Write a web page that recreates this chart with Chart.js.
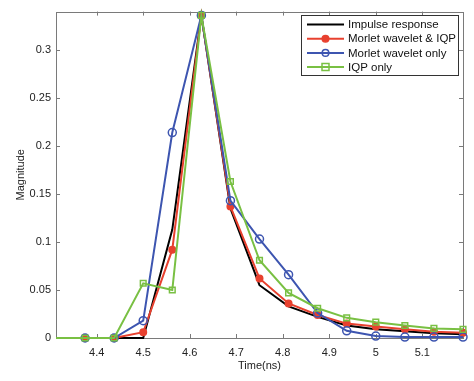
<!DOCTYPE html>
<html>
<head>
<meta charset="utf-8">
<script src="https://cdn.jsdelivr.net/npm/chart.js@4"></script>
<style>
  html, body { margin: 0; padding: 0; background: #fff; }
  #wrap { width: 474px; height: 381px; }
</style>
</head>
<body>
<div id="wrap"><canvas id="chart" width="474" height="381"></canvas></div>
<script>
// time samples (ns); the first one lies just left of the visible axis range
const times = [4.25, 4.375, 4.4375, 4.5, 4.5625, 4.625, 4.6875, 4.75, 4.8125, 4.875, 4.9375, 5.0, 5.0625, 5.125, 5.1875];

const impulse = [0, 0, 0, 0, 0.113, 0.336, 0.135, 0.055, 0.033, 0.022, 0.013, 0.009, 0.007, 0.005, 0.004];
const morletIqp = [0, 0, 0, 0.006, 0.092, 0.336, 0.137, 0.062, 0.036, 0.024, 0.015, 0.012, 0.009, 0.0065, 0.0055];
const morletOnly = [0, 0, 0, 0.018, 0.214, 0.336, 0.143, 0.103, 0.066, 0.026, 0.0075, 0.002, 0.001, 0.001, 0.001];
const iqpOnly = [0, 0, 0, 0.057, 0.050, 0.336, 0.163, 0.081, 0.047, 0.031, 0.021, 0.0165, 0.013, 0.010, 0.009];

const xTicks = [4.4, 4.5, 4.6, 4.7, 4.8, 4.9, 5.0, 5.1];
const yTicks = [0, 0.05, 0.1, 0.15, 0.2, 0.25, 0.3];

const FONT = "'Liberation Sans', Arial, sans-serif";

function pts(vals) {
  return vals.map((v, i) => ({ x: times[i], y: v }));
}

// matlab-like box with inward ticks (under the lines), legend on top
const boxPlugin = {
  id: "box",
  beforeDatasetsDraw(chart) {
    const ctx = chart.ctx;
    const a = chart.chartArea;
    const xs = chart.scales.x, ys = chart.scales.y;
    ctx.save();
    ctx.strokeStyle = "#7a7a7a";
    ctx.lineWidth = 1;
    ctx.strokeRect(Math.round(a.left) + 0.5, Math.round(a.top) + 0.5, Math.round(a.right - a.left), Math.round(a.bottom - a.top));
    ctx.beginPath();
    xTicks.forEach(t => {
      const px = Math.round(xs.getPixelForValue(t)) + 0.5;
      ctx.moveTo(px, a.bottom); ctx.lineTo(px, a.bottom - 4);
      ctx.moveTo(px, a.top); ctx.lineTo(px, a.top + 4);
    });
    yTicks.forEach(t => {
      const py = Math.round(ys.getPixelForValue(t)) + 0.5;
      ctx.moveTo(a.left, py); ctx.lineTo(a.left + 4, py);
      ctx.moveTo(a.right, py); ctx.lineTo(a.right - 4, py);
    });
    ctx.stroke();
    ctx.restore();
  },
  afterDraw(chart) {
    const ctx = chart.ctx;
    ctx.save();
    const lx = 301, ly = 15, lw = 157, lh = 60;
    ctx.fillStyle = "#fff";
    ctx.fillRect(lx, ly, lw, lh);
    ctx.strokeStyle = "#333";
    ctx.lineWidth = 1;
    ctx.strokeRect(lx + 0.5, ly + 0.5, lw, lh);
    ctx.font = "11.5px " + FONT;
    ctx.textBaseline = "middle";
    chart.data.datasets.forEach((ds, i) => {
      const y = ly + 9.5 + i * 14.2;
      ctx.strokeStyle = ds.borderColor;
      ctx.lineWidth = 2;
      ctx.beginPath();
      ctx.moveTo(307, y); ctx.lineTo(344, y);
      ctx.stroke();
      if (ds.pointRadius > 0) {
        ctx.lineWidth = 1.5;
        ctx.fillStyle = ds.pointBackgroundColor;
        ctx.beginPath();
        if (ds.pointStyle === "rect") {
          ctx.rect(322, y - 3.5, 7, 7);
        } else {
          ctx.arc(325.5, y, 3.3, 0, Math.PI * 2);
        }
        ctx.fill();
        ctx.stroke();
      }
      ctx.fillStyle = "#111";
      ctx.fillText(ds.label, 348, y + 0.5);
    });
    ctx.restore();
  }
};

const clipBox = { left: 0, top: 6, right: 6, bottom: 6 };

new Chart(document.getElementById("chart"), {
  type: "line",
  data: {
    datasets: [
      {
        label: "Impulse response",
        data: pts(impulse),
        borderColor: "#000000",
        borderWidth: 2,
        pointRadius: 0,
        clip: clipBox,
        order: 4
      },
      {
        label: "Morlet wavelet & IQP",
        data: pts(morletIqp),
        borderColor: "#e8412f",
        pointBackgroundColor: "#e8412f",
        pointBorderColor: "#e8412f",
        borderWidth: 2,
        pointRadius: 3,
        pointStyle: "circle",
        clip: clipBox,
        order: 3
      },
      {
        label: "Morlet wavelet only",
        data: pts(morletOnly),
        borderColor: "#3d55b0",
        pointBackgroundColor: "rgba(0,0,0,0)",
        pointBorderColor: "#3d55b0",
        pointBorderWidth: 1.5,
        borderWidth: 2,
        pointRadius: 4,
        pointStyle: "circle",
        clip: clipBox,
        order: 2
      },
      {
        label: "IQP only",
        data: pts(iqpOnly),
        borderColor: "#79c043",
        pointBackgroundColor: "rgba(0,0,0,0)",
        pointBorderColor: "#79c043",
        pointBorderWidth: 1.5,
        borderWidth: 2,
        pointRadius: 4,
        pointStyle: "rect",
        clip: clipBox,
        order: 1
      }
    ]
  },
  options: {
    responsive: false,
    animation: false,
    layout: { padding: { top: 8, right: 11, left: 0, bottom: 0 } },
    plugins: {
      legend: { display: false },
      tooltip: { enabled: false }
    },
    scales: {
      x: {
        type: "linear",
        min: 4.3125,
        max: 5.1875,
        afterBuildTicks: s => { s.ticks = xTicks.map(v => ({ value: v })); },
        afterFit: s => { s.height = 43; },
        grid: { display: false, drawTicks: false },
        border: { display: false },
        ticks: {
          font: { family: FONT, size: 11 },
          color: "#222",
          padding: 8,
          maxRotation: 0,
          callback: v => String(+v.toFixed(2))
        },
        title: {
          display: true,
          text: "Time(ns)",
          font: { family: FONT, size: 11 },
          color: "#222",
          padding: { top: 2, bottom: 8 }
        }
      },
      y: {
        min: 0,
        max: 0.34,
        afterBuildTicks: s => { s.ticks = yTicks.map(v => ({ value: v })); },
        afterFit: s => { s.width = 56; },
        grid: { display: false, drawTicks: false },
        border: { display: false },
        ticks: {
          font: { family: FONT, size: 11 },
          color: "#222",
          padding: 5,
          callback: v => String(+v.toFixed(2))
        },
        title: {
          display: true,
          text: "Magnitude",
          font: { family: FONT, size: 11 },
          color: "#222",
          padding: { top: 14, bottom: 2 }
        }
      }
    }
  },
  plugins: [boxPlugin]
});
</script>
</body>
</html>
